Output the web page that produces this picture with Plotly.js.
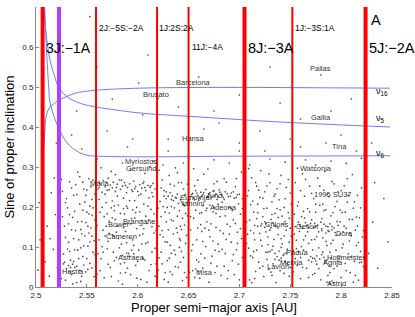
<!DOCTYPE html>
<html>
<head>
<meta charset="utf-8">
<script src="https://cdn.plot.ly/plotly-3.0.1.min.js"></script>
<style>html,body{margin:0;padding:0;background:#fff;}#chart{width:415px;height:317px;}</style>
</head>
<body>
<div id="chart"></div>
<script>
// ---- asteroid proper elements [a (AU), sin i] ----
const edgePts = [[2.502,0.042],[2.504,0.118],[2.503,0.211],[2.509,0.063],[2.511,0.152],[2.513,0.027],[2.515,0.236],[2.517,0.094],[2.519,0.181],[2.521,0.049],[2.514,0.121],[2.518,0.273],[2.827,0.084],[2.831,0.162],[2.836,0.047],[2.842,0.221],[2.846,0.113],[2.833,0.261]];
const zoneA = [[2.525,0.021],[2.527,0.083],[2.528,0.152],[2.530,0.046],[2.531,0.198],[2.532,0.112],[2.533,0.263],[2.534,0.067],[2.535,0.031],[2.536,0.174],[2.537,0.229],[2.538,0.093],[2.539,0.141],[2.540,0.052],[2.541,0.287],[2.542,0.118],[2.543,0.207],[2.544,0.014],[2.545,0.164],[2.546,0.076],[2.547,0.245],[2.548,0.128],[2.549,0.038],[2.550,0.187],[2.551,0.102],[2.552,0.271],[2.553,0.059],[2.554,0.148],[2.555,0.219],[2.556,0.087],[2.557,0.026],[2.558,0.168],[2.526,0.239],[2.529,0.124],[2.533,0.181],[2.536,0.008],[2.539,0.256],[2.542,0.071],[2.545,0.133],[2.548,0.212],[2.551,0.044],[2.554,0.251],[2.557,0.116],[2.527,0.058],[2.531,0.095],[2.535,0.143],[2.540,0.231],[2.544,0.098],[2.549,0.161],[2.553,0.202],[2.556,0.267],[2.529,0.017],[2.538,0.049],[2.543,0.041],[2.547,0.055],[2.552,0.135],[2.534,0.037],[2.546,0.262],[2.550,0.243],[2.555,0.179],[2.532,0.054],[2.534,0.049],[2.536,0.057]];
const zoneA2 = [[2.524,0.137],[2.526,0.176],[2.528,0.062],[2.530,0.221],[2.532,0.158],[2.533,0.089],[2.535,0.248],[2.537,0.121],[2.538,0.189],[2.540,0.011],[2.541,0.163],[2.543,0.276],[2.544,0.144],[2.546,0.192],[2.547,0.103],[2.549,0.229],[2.550,0.071],[2.552,0.183],[2.553,0.113],[2.555,0.048],[2.556,0.198],[2.558,0.233],[2.525,0.269],[2.529,0.211],[2.537,0.064],[2.541,0.092],[2.545,0.027],[2.551,0.152],[2.555,0.127],[2.558,0.081]];
const zoneB = [[2.561,0.245],[2.563,0.258],[2.565,0.237],[2.566,0.266],[2.568,0.251],[2.570,0.242],[2.571,0.272],[2.573,0.255],[2.575,0.248],[2.576,0.262],[2.578,0.239],[2.580,0.257],[2.582,0.268],[2.583,0.244],[2.585,0.252],[2.587,0.261],[2.589,0.236],[2.590,0.249],[2.592,0.258],[2.594,0.243],[2.596,0.265],[2.598,0.251],[2.600,0.239],[2.602,0.256],[2.604,0.247],[2.606,0.263],[2.608,0.241],[2.610,0.254],[2.612,0.249],[2.615,0.259],[2.617,0.245],[2.560,0.032],[2.562,0.118],[2.563,0.187],[2.564,0.071],[2.566,0.142],[2.567,0.023],[2.569,0.211],[2.570,0.096],[2.572,0.165],[2.573,0.049],[2.574,0.289],[2.576,0.127],[2.577,0.203],[2.579,0.074],[2.580,0.152],[2.581,0.015],[2.583,0.184],[2.584,0.107],[2.586,0.222],[2.587,0.061],[2.588,0.139],[2.590,0.197],[2.591,0.084],[2.593,0.031],[2.594,0.171],[2.595,0.118],[2.597,0.216],[2.598,0.054],[2.599,0.146],[2.601,0.092],[2.602,0.188],[2.603,0.019],[2.605,0.133],[2.606,0.207],[2.607,0.068],[2.609,0.159],[2.610,0.112],[2.611,0.041],[2.613,0.194],[2.614,0.087],[2.615,0.226],[2.616,0.135],[2.618,0.058],[2.564,0.298],[2.578,0.281],[2.593,0.292],[2.607,0.284],[2.612,0.301],[2.574,0.198],[2.577,0.191],[2.581,0.205],[2.586,0.196],[2.589,0.202],[2.595,0.193],[2.599,0.199],[2.568,0.128],[2.572,0.134],[2.575,0.131],[2.579,0.137],[2.585,0.079],[2.589,0.085],[2.592,0.077],[2.596,0.083],[2.561,0.083],[2.565,0.101],[2.571,0.057],[2.575,0.173],[2.582,0.098],[2.588,0.036],[2.592,0.124],[2.597,0.172],[2.600,0.064],[2.604,0.108],[2.608,0.177],[2.611,0.223],[2.614,0.151],[2.617,0.097],[2.619,0.183],[2.562,0.219],[2.567,0.176],[2.585,0.007],[2.603,0.232],[2.609,0.012]];
const zoneB2 = [[2.560,0.154],[2.562,0.263],[2.563,0.041],[2.565,0.199],[2.566,0.087],[2.568,0.232],[2.569,0.152],[2.571,0.114],[2.572,0.243],[2.574,0.026],[2.575,0.215],[2.577,0.066],[2.578,0.169],[2.580,0.227],[2.581,0.121],[2.583,0.058],[2.584,0.267],[2.586,0.148],[2.587,0.183],[2.589,0.111],[2.590,0.047],[2.592,0.216],[2.593,0.158],[2.595,0.239],[2.596,0.104],[2.598,0.186],[2.599,0.022],[2.601,0.229],[2.602,0.129],[2.604,0.166],[2.605,0.071],[2.607,0.249],[2.608,0.109],[2.610,0.202],[2.611,0.168],[2.613,0.056],[2.614,0.236],[2.616,0.183],[2.617,0.027],[2.618,0.141],[2.562,0.249],[2.569,0.262],[2.579,0.249],[2.588,0.254],[2.597,0.246],[2.605,0.259],[2.613,0.253],[2.583,0.035],[2.594,0.092],[2.606,0.146],[2.570,0.183],[2.576,0.087]];
const zoneC = [[2.620,0.043],[2.621,0.152],[2.622,0.214],[2.623,0.087],[2.624,0.268],[2.625,0.125],[2.626,0.019],[2.627,0.187],[2.628,0.238],[2.629,0.066],[2.630,0.143],[2.631,0.279],[2.632,0.104],[2.633,0.201],[2.634,0.031],[2.635,0.165],[2.636,0.253],[2.637,0.081],[2.638,0.222],[2.639,0.136],[2.640,0.049],[2.641,0.191],[2.642,0.117],[2.643,0.261],[2.644,0.208],[2.645,0.074],[2.646,0.155],[2.647,0.231],[2.648,0.024],[2.649,0.178],[2.621,0.292],[2.624,0.058],[2.627,0.113],[2.630,0.227],[2.633,0.168],[2.636,0.092],[2.639,0.286],[2.642,0.062],[2.645,0.245],[2.648,0.129],[2.623,0.176],[2.626,0.241],[2.629,0.199],[2.632,0.038],[2.635,0.216],[2.638,0.147],[2.641,0.099],[2.644,0.016],[2.647,0.184],[2.622,0.131],[2.631,0.072],[2.637,0.298],[2.643,0.144],[2.646,0.203],[2.649,0.257],[2.640,0.209],[2.643,0.213],[2.645,0.206],[2.642,0.218],[2.628,0.221],[2.634,0.228],[2.639,0.232],[2.633,0.219]];
const zoneC2 = [[2.620,0.197],[2.621,0.073],[2.623,0.248],[2.624,0.141],[2.625,0.201],[2.627,0.036],[2.628,0.163],[2.629,0.112],[2.631,0.185],[2.632,0.257],[2.633,0.084],[2.635,0.133],[2.636,0.198],[2.637,0.051],[2.639,0.177],[2.640,0.261],[2.641,0.121],[2.643,0.089],[2.644,0.172],[2.646,0.036],[2.647,0.109],[2.649,0.214],[2.626,0.227],[2.632,0.236],[2.637,0.224],[2.646,0.229],[2.630,0.012],[2.642,0.152]];
const zoneD = [[2.652,0.226],[2.654,0.234],[2.656,0.218],[2.657,0.241],[2.659,0.229],[2.661,0.222],[2.662,0.237],[2.664,0.231],[2.666,0.215],[2.667,0.244],[2.669,0.227],[2.671,0.236],[2.672,0.221],[2.674,0.239],[2.676,0.228],[2.678,0.219],[2.680,0.243],[2.682,0.232],[2.684,0.224],[2.686,0.238],[2.689,0.226],[2.692,0.235],[2.695,0.222],[2.698,0.231],[2.664,0.203],[2.668,0.197],[2.671,0.205],[2.675,0.199],[2.679,0.207],[2.651,0.037],[2.652,0.143],[2.653,0.091],[2.655,0.172],[2.656,0.024],[2.658,0.118],[2.659,0.267],[2.660,0.063],[2.661,0.184],[2.663,0.139],[2.664,0.047],[2.665,0.282],[2.667,0.101],[2.668,0.163],[2.670,0.012],[2.671,0.126],[2.673,0.077],[2.674,0.188],[2.675,0.258],[2.677,0.149],[2.678,0.052],[2.679,0.107],[2.681,0.176],[2.682,0.029],[2.684,0.134],[2.685,0.271],[2.686,0.084],[2.688,0.157],[2.689,0.041],[2.690,0.199],[2.692,0.112],[2.693,0.066],[2.694,0.168],[2.696,0.251],[2.697,0.093],[2.698,0.137],[2.700,0.018],[2.701,0.182],[2.702,0.121],[2.703,0.074],[2.655,0.296],[2.662,0.083],[2.666,0.147],[2.669,0.295],[2.676,0.036],[2.680,0.089],[2.683,0.212],[2.687,0.262],[2.691,0.151],[2.695,0.031],[2.699,0.208],[2.702,0.287],[2.657,0.192],[2.664,0.114],[2.672,0.158],[2.687,0.119],[2.693,0.191],[2.658,0.068],[2.699,0.057],[2.654,0.041],[2.657,0.045],[2.660,0.039]];
const zoneD2 = [[2.651,0.218],[2.653,0.231],[2.655,0.223],[2.658,0.235],[2.660,0.217],[2.663,0.228],[2.665,0.236],[2.668,0.224],[2.670,0.232],[2.673,0.226],[2.675,0.241],[2.677,0.233],[2.679,0.225],[2.681,0.237],[2.683,0.229],[2.685,0.219],[2.688,0.233],[2.691,0.227],[2.694,0.238],[2.697,0.224],[2.700,0.232],[2.703,0.221],[2.652,0.176],[2.654,0.106],[2.656,0.253],[2.659,0.148],[2.661,0.022],[2.663,0.186],[2.666,0.072],[2.667,0.191],[2.670,0.142],[2.672,0.059],[2.674,0.115],[2.677,0.184],[2.678,0.264],[2.681,0.141],[2.683,0.094],[2.686,0.178],[2.688,0.021],[2.690,0.132],[2.692,0.197],[2.694,0.081],[2.696,0.159],[2.698,0.109],[2.701,0.146],[2.703,0.196],[2.685,0.052],[2.697,0.271],[2.662,0.156],[2.676,0.092]];
const zoneE = [[2.718,0.152],[2.722,0.158],[2.725,0.149],[2.729,0.155],[2.733,0.161],[2.736,0.151],[2.728,0.087],[2.732,0.093],[2.735,0.084],[2.739,0.090],[2.743,0.079],[2.746,0.085],[2.741,0.072],[2.737,0.076],[2.706,0.051],[2.707,0.163],[2.708,0.228],[2.709,0.097],[2.710,0.018],[2.711,0.141],[2.712,0.273],[2.713,0.074],[2.714,0.187],[2.715,0.118],[2.716,0.039],[2.717,0.252],[2.718,0.207],[2.719,0.062],[2.720,0.134],[2.721,0.291],[2.722,0.103],[2.723,0.176],[2.724,0.026],[2.725,0.238],[2.726,0.087],[2.727,0.197],[2.728,0.125],[2.729,0.044],[2.730,0.261],[2.731,0.169],[2.732,0.213],[2.733,0.058],[2.734,0.119],[2.735,0.184],[2.736,0.011],[2.737,0.246],[2.738,0.131],[2.739,0.067],[2.740,0.193],[2.741,0.279],[2.742,0.108],[2.743,0.157],[2.744,0.034],[2.745,0.221],[2.746,0.142],[2.747,0.095],[2.748,0.269],[2.749,0.172],[2.750,0.049],[2.751,0.127],[2.708,0.132],[2.711,0.206],[2.714,0.089],[2.717,0.171],[2.720,0.047],[2.723,0.222],[2.726,0.138],[2.729,0.283],[2.732,0.029],[2.735,0.232],[2.738,0.174],[2.741,0.121],[2.744,0.199],[2.747,0.058],[2.750,0.235],[2.709,0.296],[2.715,0.154],[2.719,0.242],[2.727,0.069],[2.733,0.102],[2.739,0.218],[2.745,0.164],[2.749,0.112],[2.712,0.011]];
const zoneE2 = [[2.706,0.197],[2.707,0.109],[2.709,0.241],[2.710,0.167],[2.711,0.078],[2.713,0.215],[2.714,0.135],[2.716,0.261],[2.717,0.092],[2.718,0.186],[2.720,0.224],[2.721,0.117],[2.723,0.052],[2.724,0.196],[2.725,0.163],[2.727,0.253],[2.728,0.106],[2.730,0.142],[2.731,0.037],[2.732,0.181],[2.734,0.227],[2.735,0.069],[2.737,0.196],[2.738,0.148],[2.740,0.258],[2.741,0.099],[2.742,0.177],[2.744,0.128],[2.745,0.063],[2.746,0.249],[2.748,0.186],[2.749,0.027],[2.750,0.147],[2.751,0.207],[2.721,0.153],[2.726,0.159],[2.731,0.148],[2.734,0.154],[2.730,0.089],[2.744,0.083],[2.715,0.021],[2.740,0.041]];
const zoneF = [[2.755,0.151],[2.759,0.156],[2.762,0.147],[2.766,0.153],[2.770,0.159],[2.773,0.149],[2.777,0.155],[2.781,0.146],[2.785,0.152],[2.789,0.158],[2.793,0.148],[2.778,0.138],[2.781,0.141],[2.785,0.135],[2.788,0.139],[2.791,0.143],[2.794,0.136],[2.768,0.067],[2.772,0.072],[2.775,0.065],[2.779,0.070],[2.783,0.074],[2.786,0.068],[2.776,0.078],[2.781,0.081],[2.753,0.091],[2.756,0.096],[2.758,0.088],[2.786,0.012],[2.789,0.009],[2.791,0.015],[2.793,0.011],[2.753,0.038],[2.754,0.182],[2.755,0.261],[2.756,0.117],[2.757,0.054],[2.758,0.213],[2.759,0.139],[2.760,0.021],[2.761,0.176],[2.762,0.283],[2.763,0.092],[2.764,0.227],[2.765,0.128],[2.766,0.047],[2.767,0.196],[2.768,0.109],[2.769,0.252],[2.770,0.076],[2.771,0.168],[2.772,0.031],[2.773,0.221],[2.774,0.119],[2.775,0.187],[2.776,0.057],[2.777,0.272],[2.778,0.098],[2.779,0.204],[2.780,0.018],[2.781,0.171],[2.782,0.123],[2.783,0.242],[2.784,0.061],[2.785,0.193],[2.786,0.104],[2.787,0.029],[2.788,0.226],[2.789,0.087],[2.790,0.178],[2.791,0.264],[2.792,0.117],[2.793,0.046],[2.794,0.201],[2.795,0.092],[2.796,0.164],[2.797,0.238],[2.798,0.071],[2.799,0.132],[2.800,0.024],[2.801,0.186],[2.802,0.107],[2.803,0.253],[2.804,0.059],[2.805,0.147],[2.806,0.212],[2.807,0.083],[2.808,0.169],[2.809,0.036],[2.810,0.128],[2.811,0.281],[2.812,0.197],[2.813,0.064],[2.814,0.142],[2.815,0.104],[2.816,0.229],[2.817,0.017],[2.818,0.173],[2.819,0.089],[2.820,0.248],[2.821,0.125],[2.822,0.051],[2.823,0.192],[2.757,0.297],[2.765,0.161],[2.774,0.034],[2.784,0.289],[2.796,0.052],[2.806,0.271],[2.815,0.175],[2.760,0.074],[2.771,0.118],[2.782,0.207],[2.799,0.192],[2.808,0.115],[2.818,0.061],[2.763,0.189],[2.788,0.053],[2.802,0.138],[2.812,0.012]];
const zoneF2 = [[2.754,0.132],[2.755,0.071],[2.757,0.203],[2.758,0.162],[2.760,0.241],[2.761,0.101],[2.762,0.049],[2.764,0.173],[2.765,0.269],[2.767,0.138],[2.768,0.024],[2.769,0.188],[2.771,0.234],[2.772,0.093],[2.774,0.159],[2.775,0.207],[2.776,0.126],[2.778,0.046],[2.779,0.252],[2.780,0.162],[2.782,0.087],[2.783,0.191],[2.785,0.114],[2.786,0.231],[2.787,0.151],[2.789,0.036],[2.790,0.109],[2.792,0.186],[2.793,0.258],[2.795,0.129],[2.796,0.214],[2.797,0.064],[2.799,0.163],[2.800,0.241],[2.801,0.098],[2.803,0.152],[2.804,0.187],[2.805,0.041],[2.807,0.229],[2.808,0.134],[2.810,0.076],[2.811,0.169],[2.813,0.213],[2.814,0.029],[2.816,0.152],[2.817,0.111],[2.819,0.198],[2.820,0.062],[2.822,0.141],[2.823,0.238],[2.760,0.152],[2.768,0.148],[2.775,0.151],[2.783,0.157],[2.791,0.151],[2.797,0.154],[2.787,0.141],[2.774,0.071],[2.784,0.066],[2.790,0.071],[2.771,0.063],[2.763,0.118]];
const highPts = [[2.553,0.676],[2.706,0.530],[2.601,0.510],[2.620,0.472],[2.660,0.525],[2.740,0.460],[2.790,0.440],[2.810,0.470],[2.680,0.410],[2.570,0.390],[2.590,0.350],[2.630,0.370],[2.650,0.330],[2.700,0.360],[2.720,0.390],[2.760,0.350],[2.800,0.380],[2.830,0.360],[2.605,0.430],[2.640,0.450],[2.690,0.310],[2.730,0.320],[2.775,0.305],[2.790,0.315],[2.560,0.320],[2.585,0.310],[2.615,0.315],[2.625,0.305],[2.645,0.310],[2.675,0.318],[2.710,0.305],[2.745,0.312],[2.765,0.318],[2.805,0.309],[2.820,0.322],[2.760,0.420],[2.540,0.440],[2.575,0.470],[2.700,0.480],[2.665,0.395],[2.730,0.550],[2.780,0.530],[2.560,0.550],[2.610,0.580],[2.535,0.380],[2.545,0.345],[2.520,0.360],[2.675,0.440],[2.750,0.370],[2.785,0.360],[2.815,0.340],[2.595,0.370],[2.630,0.340],[2.700,0.340],[2.725,0.340]];

// ---- secular resonances ----
const nu16A = [2.5069,2.5085,2.5098,2.5125,2.5197,2.530,2.5393,2.555,2.5787,2.620,2.700,2.780,2.848];
const nu16S = [0.325,0.380,0.4225,0.445,0.4625,0.476,0.485,0.491,0.495,0.498,0.499,0.498,0.497];
const nu5A = [2.5080,2.5105,2.5140,2.5185,2.5226,2.5324,2.545,2.559,2.5787,2.6022,2.6612,2.7398,2.848];
const nu5S = [0.690,0.620,0.565,0.525,0.4975,0.4725,0.458,0.450,0.4425,0.435,0.425,0.4125,0.400];
const nu6A = [2.5085,2.5105,2.5125,2.5135,2.5160,2.5197,2.526,2.5324,2.540,2.5492,2.5787,2.700,2.848];
const nu6S = [0.700,0.585,0.500,0.465,0.440,0.4125,0.378,0.355,0.340,0.330,0.326,0.327,0.328];

// ---- mean-motion resonances ----
const resNames = ["3J:\u22121A","2J:\u22125S:\u22122A","1J:2S:2A","11J:\u22124A","8J:\u22123A","1J:\u22123S:1A","5J:\u22122A"];
const resA = [2.5065,2.559,2.619,2.650,2.705,2.752,2.824];
const marsA = 2.5226;

// ---- family names ----
const famNames = ["Barcelona","Brusato","Pallas","Hansa","Myriostos","Gersuind","Maria","Gallia","Tina","Watsonia","1995 SU37","Eunomia","Juno","Iannini","Adeona","Brangane","Bower","Cameron","Astraea","Hestia","Misa","Chloris","Gefion","Dora","Padua","Hoffmeister","Agnia","Merxia","Lavion","Astrid"];
const famA = [2.6544,2.618,2.780,2.6553,2.6032,2.6032,2.5629,2.780,2.7988,2.7752,2.792,2.6563,2.675,2.6544,2.6848,2.6022,2.5816,2.5836,2.5934,2.5364,2.6652,2.7369,2.7664,2.8037,2.7575,2.8057,2.792,2.7516,2.738,2.7959];
const famS = [0.5125,0.4825,0.5475,0.3725,0.315,0.2975,0.26,0.425,0.3525,0.2975,0.2325,0.225,0.23,0.21,0.20,0.165,0.1575,0.1275,0.075,0.04,0.0375,0.1575,0.1525,0.135,0.0875,0.075,0.0625,0.0625,0.0525,0.01];

const allPts = [].concat(edgePts, zoneA, zoneA2, zoneB, zoneB2, zoneC, zoneC2, zoneD, zoneD2, zoneE, zoneE2, zoneF, zoneF2, highPts);
const FONT = "Liberation Sans, Arial, Helvetica, sans-serif";

const traces = [
  {x: allPts.map(p=>p[0]), y: allPts.map(p=>p[1]), type:"scatter", mode:"markers",
   marker:{size:1.7, color:"#222", opacity:0.8}, hoverinfo:"skip"},
  {x: nu16A, y: nu16S, type:"scatter", mode:"lines", line:{color:"#6a7cff", width:1, shape:"spline"}, hoverinfo:"skip"},
  {x: nu5A, y: nu5S, type:"scatter", mode:"lines", line:{color:"#6a7cff", width:1, shape:"spline"}, hoverinfo:"skip"},
  {x: nu6A, y: nu6S, type:"scatter", mode:"lines", line:{color:"#6a7cff", width:1, shape:"spline"}, hoverinfo:"skip"}
];

const thick = [4,2,2,2,4,2,4];
const shapes = resA.map((a,i)=>({type:"line", xref:"x", yref:"y", x0:a, x1:a, y0:0, y1:0.7,
  line:{color:"#ff0000", width:thick[i]}}));
shapes.push({type:"line", xref:"x", yref:"y", x0:marsA, x1:marsA, y0:0, y1:0.7, line:{color:"#b23cff", width:4}});

const resLabelY = [0.5975,0.6475,0.6475,0.60,0.5975,0.6475,0.5975];
const resLabelSize = [14,8.5,8.5,8.5,14.5,8.5,14.5];
const resLabelDx = [0.0018,0.001,0.0,0.0014,0.0010,0.0006,0.0010];
const annotations = [];
resNames.forEach((n,i)=>annotations.push({x:resA[i]+resLabelDx[i], y:resLabelY[i], text:n, showarrow:false,
  xanchor:"left", yanchor:"middle", font:{family:FONT, size:resLabelSize[i], color:"#000"}}));
annotations.push({x:resA[6]+0.0038, y:0.6675, text:"A", showarrow:false, xanchor:"left", yanchor:"middle",
  font:{family:FONT, size:14.5, color:"#000"}});
famNames.forEach((n,i)=>annotations.push({x:famA[i], y:famS[i], text:n, showarrow:false,
  xanchor:"center", yanchor:"middle", font:{family:FONT, size:7.5, color:"rgba(30,30,30,0.99)"}}));
const nuLab = [["16",0.488],["5",0.4225],["6",0.335]];
nuLab.forEach(p=>annotations.push({x:2.8325, y:p[1], text:"\u03bd<sub>"+p[0]+"</sub>", showarrow:false,
  xanchor:"left", yanchor:"middle", font:{family:FONT, size:9, color:"#000"}}));

const layout = {
  width:415, height:317, margin:{l:36, r:23, t:7, b:30},
  paper_bgcolor:"#fff", plot_bgcolor:"#fff", showlegend:false,
  xaxis:{range:[2.5,2.85], tickvals:[2.5,2.55,2.6,2.65,2.7,2.75,2.8,2.85], ticktext:["2.5","2.55","2.6","2.65","2.7","2.75","2.8","2.85"],
    ticks:"inside", ticklen:3, tickcolor:"#888", showline:true, linecolor:"#888", linewidth:1,
    showgrid:false, zeroline:false, tickfont:{family:FONT, size:8, color:"#222"},
    title:{text:"Proper semi\u2212major axis [AU]", font:{family:FONT, size:13, color:"#000"}, standoff:2}},
  yaxis:{range:[0,0.7], tickvals:[0,0.1,0.2,0.3,0.4,0.5,0.6], ticktext:["0","0.1","0.2","0.3","0.4","0.5","0.6"],
    ticks:"inside", ticklen:3, tickcolor:"#888", showline:true, linecolor:"#888", linewidth:1,
    showgrid:false, zeroline:false, tickfont:{family:FONT, size:8, color:"#222"},
    title:{text:"Sine of proper inclination", font:{family:FONT, size:13, color:"#000"}, standoff:4}},
  shapes:shapes, annotations:annotations
};
Plotly.newPlot("chart", traces, layout, {staticPlot:true, displayModeBar:false});
</script>
</body>
</html>
